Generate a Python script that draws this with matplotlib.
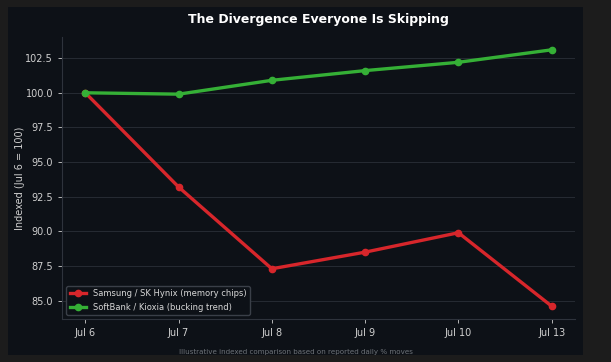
import matplotlib.pyplot as plt
from matplotlib.patches import Rectangle

days = ["Jul 6", "Jul 7", "Jul 8", "Jul 9", "Jul 10", "Jul 13"]
memory = [100.0, 93.2, 87.3, 88.5, 89.9, 84.6]
softbank = [100.0, 99.9, 100.9, 101.6, 102.2, 103.1]

fig = plt.figure(figsize=(6.11, 3.62), dpi=100, facecolor="#1c1c1c")
fig.patches.append(Rectangle((8 / 611, 7 / 362), 575 / 611, 348 / 362,
                             transform=fig.transFigure, facecolor="#0d1117",
                             edgecolor="none", zorder=-10))
ax = fig.add_axes([62 / 611, 1 - 319 / 362, 513 / 611, 282 / 362])
ax.set_facecolor("#0d1117")

x = range(len(days))
ax.plot(x, memory, color="#d7262b", lw=2.4, marker="o", ms=4.5,
        label="Samsung / SK Hynix (memory chips)")
ax.plot(x, softbank, color="#35b036", lw=2.4, marker="o", ms=4.5,
        label="SoftBank / Kioxia (bucking trend)")

ax.set_xticks(list(x))
ax.set_xticklabels(days)
ax.tick_params(colors="#d0d0d0", labelsize=7, length=3, width=0.6)
ax.set_ylabel("Indexed (Jul 6 = 100)", color="#d0d0d0", fontsize=7, labelpad=0)
ax.grid(axis="y", color="#2a2f38", lw=0.6)
ax.set_axisbelow(True)
for side in ["top", "right"]:
    ax.spines[side].set_visible(False)
for side in ["left", "bottom"]:
    ax.spines[side].set_color("#2e333c")

leg = ax.legend(loc="lower left", fontsize=6, facecolor="#0d1117",
                edgecolor="#3a3f48", labelcolor="#d8d8d8", framealpha=1)

ax.set_title("The Divergence Everyone Is Skipping", color="white",
             fontsize=9, fontweight="bold", pad=10)
fig.text(296 / 611, 1 - 352 / 362,
         "Illustrative indexed comparison based on reported daily % moves",
         ha="center", va="center", color="#6e7379", fontsize=5.1)

fig.savefig("out.png", dpi=100, facecolor=fig.get_facecolor())
